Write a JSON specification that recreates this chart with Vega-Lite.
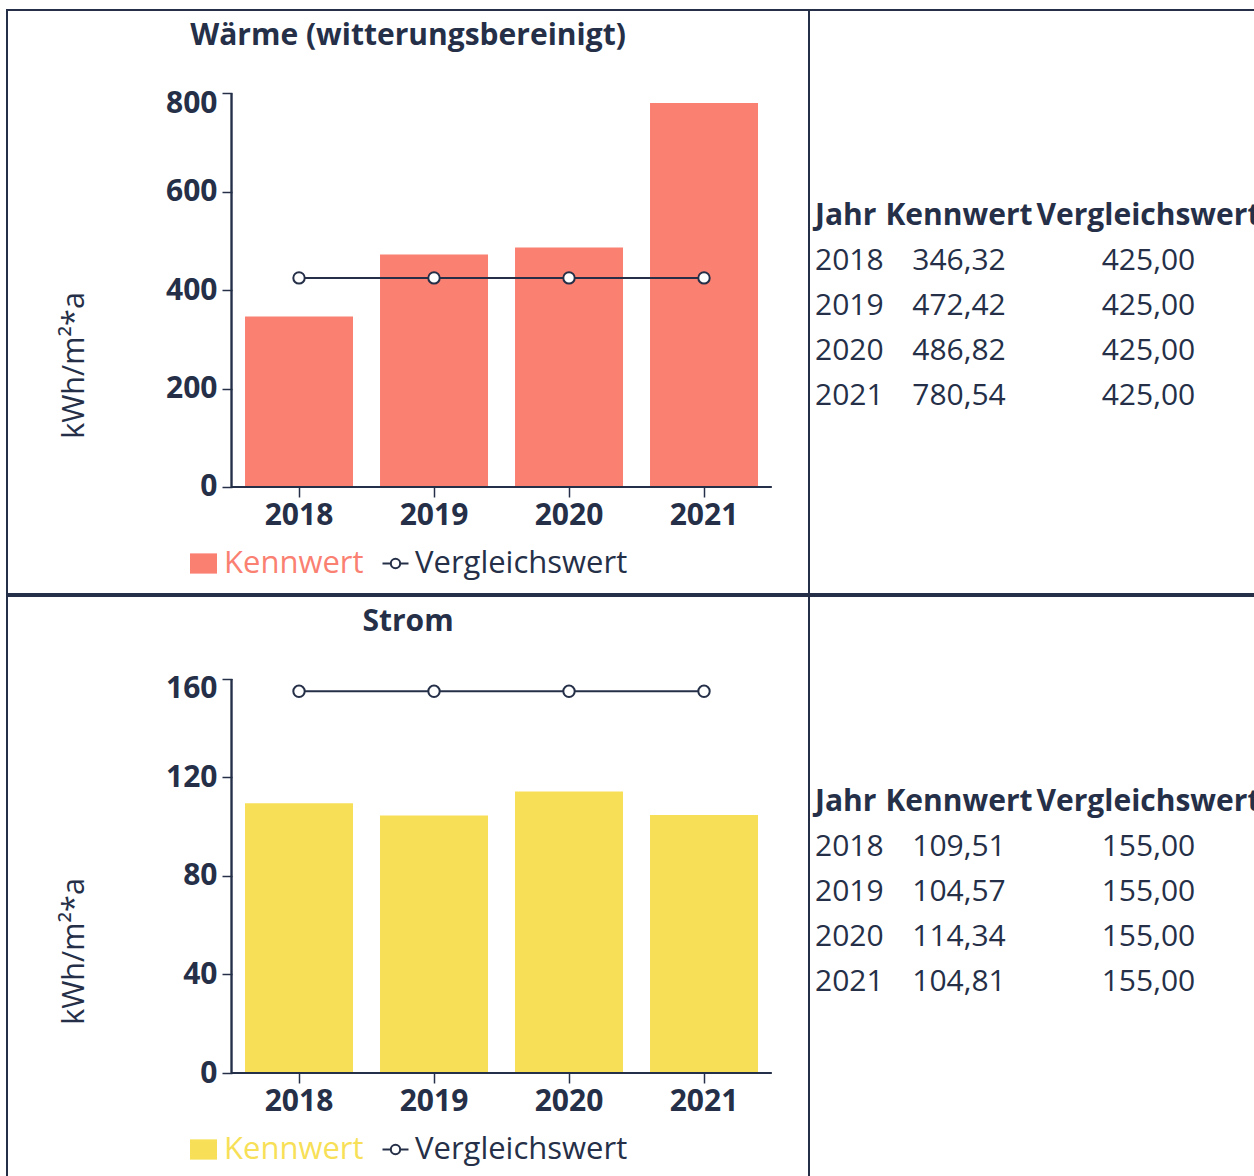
{
  "$schema": "https://vega.github.io/schema/vega-lite/v6.json",
  "background": "white",
  "padding": {"left": 6, "top": 9, "right": 0, "bottom": 0},
  "config": {
    "font": "Open Sans",
    "view": {"stroke": "#253048", "strokeWidth": 2},
    "locale": {"number": {"decimal": ",", "thousands": ".", "grouping": [3], "currency": ["", " €"]}}
  },
  "datasets": {
    "waerme": [
      {"Jahr": "2018", "Kennwert": 346.32, "Vergleichswert": 425.0},
      {"Jahr": "2019", "Kennwert": 472.42, "Vergleichswert": 425.0},
      {"Jahr": "2020", "Kennwert": 486.82, "Vergleichswert": 425.0},
      {"Jahr": "2021", "Kennwert": 780.54, "Vergleichswert": 425.0}
    ],
    "strom": [
      {"Jahr": "2018", "Kennwert": 109.51, "Vergleichswert": 155.0},
      {"Jahr": "2019", "Kennwert": 104.57, "Vergleichswert": 155.0},
      {"Jahr": "2020", "Kennwert": 114.34, "Vergleichswert": 155.0},
      {"Jahr": "2021", "Kennwert": 104.81, "Vergleichswert": 155.0}
    ]
  },
  "columns": 2,
  "spacing": {"row": 2, "column": 0},
  "bounds": "flush",
  "resolve": {"scale": {"fill": "independent", "stroke": "independent"}, "legend": {"fill": "independent", "stroke": "independent"}},
  "concat": [
    {
      "width": 802, "height": 584,
      "title": {"text": "Wärme (witterungsbereinigt)", "anchor": "middle", "frame": "group", "offset": -35, "dy": 30, "baseline": "alphabetic", "fontSize": 30, "fontWeight": "bold", "color": "#253048"},
      "data": {"name": "waerme"},
      "layer": [
        {
          "mark": {"type": "bar", "width": {"band": 0.8}},
          "encoding": {
            "x": {"field": "Jahr", "type": "ordinal", "scale": {"type": "band", "paddingInner": 0, "paddingOuter": 0.9704, "align": 0.8569},
              "axis": {"orient": "bottom", "offset": -107, "domain": false, "grid": false, "ticks": true, "tickSize": 10, "tickWidth": 1.5, "tickColor": "#253048", "labelAngle": 0, "labelFontSize": 30, "labelFontWeight": "bold", "labelColor": "#253048", "labelPadding": 3, "title": null}},
            "y": {"field": "Kennwert", "type": "quantitative", "scale": {"domain": [-217.5, 969.5], "nice": false, "zero": false},
              "axis": {"orient": "left", "offset": -225, "values": [0, 200, 400, 600, 800], "domain": false, "grid": false, "ticks": true, "tickSize": 10, "tickWidth": 1.5, "tickColor": "#253048", "labelFontSize": 30, "labelFontWeight": "bold", "labelColor": "#253048", "labelPadding": 5,
                "labelOffset": {"condition": {"test": "datum.value == 800", "value": 10}, "value": 0},
                "title": "kWh/m²*a", "titleFontSize": 30.5, "titleFontWeight": "normal", "titleColor": "#253048", "titleAngle": -90, "titleX": -149, "titleY": 355, "titleAlign": "center", "titleBaseline": "alphabetic"}},
            "y2": {"datum": 0},
            "fill": {"datum": "Kennwert", "scale": {"domain": ["Kennwert"], "range": ["#FA8072"]},
              "legend": {"orient": "none", "legendX": 181, "legendY": 538, "padding": 0, "title": null, "symbolType": "M-1,-0.75H1V0.75H-1Z", "symbolSize": 729, "symbolStrokeWidth": 0, "labelColor": "#FA8072", "labelFontSize": 31, "labelOffset": 5, "labelLimit": 0}}
          }
        },
        {
          "mark": {"type": "rule", "color": "#253048", "strokeWidth": 1.5},
          "encoding": {
            "x": {"datum": "2018", "type": "ordinal", "bandPosition": 0},
            "y": {"datum": 0, "type": "quantitative", "scale": {"domain": [-217.5, 969.5], "nice": false, "zero": false}},
            "y2": {"datum": 800}
          }
        },
        {
          "mark": {"type": "rule", "color": "#253048", "strokeWidth": 1.5},
          "encoding": {
            "x": {"datum": "2018", "type": "ordinal", "bandPosition": 0},
            "x2": {"datum": "2021", "bandPosition": 1},
            "y": {"datum": 0, "type": "quantitative", "scale": {"domain": [-217.5, 969.5], "nice": false, "zero": false}}
          }
        },
        {
          "mark": {"type": "line", "strokeWidth": 2},
          "encoding": {
            "x": {"field": "Jahr", "type": "ordinal"},
            "y": {"field": "Vergleichswert", "type": "quantitative", "scale": {"domain": [-217.5, 969.5], "nice": false, "zero": false}},
            "stroke": {"datum": "Vergleichswert", "scale": {"domain": ["Vergleichswert"], "range": ["#253048"]},
              "legend": {"orient": "none", "legendX": 373, "legendY": 538, "padding": 0, "title": null, "symbolType": "M-1,0H-0.36M0.36,0H1M-0.36,0A0.36,0.36,0,1,1,0.36,0A0.36,0.36,0,1,1,-0.36,0", "symbolSize": 676, "symbolStrokeWidth": 2, "symbolFillColor": "white", "symbolStrokeColor": "#253048", "labelColor": "#253048", "labelFontSize": 31, "labelOffset": 4, "labelLimit": 0}}
          }
        },
        {
          "mark": {"type": "point", "filled": true, "fill": "white", "size": 130, "strokeWidth": 2, "opacity": 1},
          "encoding": {
            "x": {"field": "Jahr", "type": "ordinal"},
            "y": {"field": "Vergleichswert", "type": "quantitative", "scale": {"domain": [-217.5, 969.5], "nice": false, "zero": false}},
            "stroke": {"datum": "Vergleichswert"}
          }
        }
      ]
    },
    {
      "width": 450, "height": 584,
      "data": {"name": "waerme"},
      "layer": [
        {
          "transform": [{"filter": "datum.Jahr == '2018'"}],
          "mark": {"type": "text", "align": "left", "baseline": "middle", "fontSize": 30, "fontWeight": "bold", "color": "#253048"},
          "encoding": {
            "x": {"datum": "Jahr", "type": "nominal", "bandPosition": 0.04, "scale": {"type": "band", "domain": ["Jahr", "Kennwert", "Vergleichswert"], "paddingInner": 0, "paddingOuter": 0}, "axis": null},
            "y": {"datum": "Jahr", "type": "ordinal", "scale": {"type": "point", "domain": ["Jahr", "2018", "2019", "2020", "2021"], "range": [206, 386], "padding": 0}, "axis": null},
            "text": {"value": "Jahr"}
          }
        },
        {
          "transform": [{"filter": "datum.Jahr == '2018'"}],
          "mark": {"type": "text", "align": "center", "baseline": "middle", "fontSize": 30, "fontWeight": "bold", "color": "#253048"},
          "encoding": {
            "x": {"datum": "Kennwert", "type": "nominal", "bandPosition": 0},
            "y": {"datum": "Jahr", "type": "ordinal", "scale": {"type": "point", "domain": ["Jahr", "2018", "2019", "2020", "2021"], "range": [206, 386], "padding": 0}},
            "text": {"value": "Kennwert"}
          }
        },
        {
          "transform": [{"filter": "datum.Jahr == '2018'"}],
          "mark": {"type": "text", "align": "center", "baseline": "middle", "fontSize": 30, "fontWeight": "bold", "color": "#253048"},
          "encoding": {
            "x": {"datum": "Vergleichswert", "type": "nominal", "bandPosition": 0.263},
            "y": {"datum": "Jahr", "type": "ordinal", "scale": {"type": "point", "domain": ["Jahr", "2018", "2019", "2020", "2021"], "range": [206, 386], "padding": 0}},
            "text": {"value": "Vergleichswert"}
          }
        },
        {
          "mark": {"type": "text", "align": "left", "baseline": "middle", "fontSize": 30, "color": "#253048"},
          "encoding": {
            "x": {"datum": "Jahr", "type": "nominal", "bandPosition": 0.04},
            "y": {"field": "Jahr", "type": "ordinal", "scale": {"type": "point", "domain": ["Jahr", "2018", "2019", "2020", "2021"], "range": [206, 386], "padding": 0}},
            "text": {"field": "Jahr"}
          }
        },
        {
          "mark": {"type": "text", "align": "center", "baseline": "middle", "fontSize": 30, "color": "#253048"},
          "encoding": {
            "x": {"datum": "Kennwert", "type": "nominal", "bandPosition": 0},
            "y": {"field": "Jahr", "type": "ordinal", "scale": {"type": "point", "domain": ["Jahr", "2018", "2019", "2020", "2021"], "range": [206, 386], "padding": 0}},
            "text": {"field": "Kennwert", "type": "quantitative", "format": ".2f"}
          }
        },
        {
          "mark": {"type": "text", "align": "center", "baseline": "middle", "fontSize": 30, "color": "#253048"},
          "encoding": {
            "x": {"datum": "Vergleichswert", "type": "nominal", "bandPosition": 0.263},
            "y": {"field": "Jahr", "type": "ordinal", "scale": {"type": "point", "domain": ["Jahr", "2018", "2019", "2020", "2021"], "range": [206, 386], "padding": 0}},
            "text": {"field": "Vergleichswert", "type": "quantitative", "format": ".2f"}
          }
        }
      ]
    },
    {
      "width": 802, "height": 584,
      "title": {"text": "Strom", "anchor": "middle", "frame": "group", "offset": -35, "dy": 30, "baseline": "alphabetic", "fontSize": 30, "fontWeight": "bold", "color": "#253048"},
      "data": {"name": "strom"},
      "layer": [
        {
          "mark": {"type": "bar", "width": {"band": 0.8}},
          "encoding": {
            "x": {"field": "Jahr", "type": "ordinal", "scale": {"type": "band", "paddingInner": 0, "paddingOuter": 0.9704, "align": 0.8569},
              "axis": {"orient": "bottom", "offset": -107, "domain": false, "grid": false, "ticks": true, "tickSize": 10, "tickWidth": 1.5, "tickColor": "#253048", "labelAngle": 0, "labelFontSize": 30, "labelFontWeight": "bold", "labelColor": "#253048", "labelPadding": 3, "title": null}},
            "y": {"field": "Kennwert", "type": "quantitative", "scale": {"domain": [-43.45, 193.7], "nice": false, "zero": false},
              "axis": {"orient": "left", "offset": -225, "values": [0, 40, 80, 120, 160], "domain": false, "grid": false, "ticks": true, "tickSize": 10, "tickWidth": 1.5, "tickColor": "#253048", "labelFontSize": 30, "labelFontWeight": "bold", "labelColor": "#253048", "labelPadding": 5,
                "labelOffset": {"condition": {"test": "datum.value == 160", "value": 10}, "value": 0},
                "title": "kWh/m²*a", "titleFontSize": 30.5, "titleFontWeight": "normal", "titleColor": "#253048", "titleAngle": -90, "titleX": -149, "titleY": 355, "titleAlign": "center", "titleBaseline": "alphabetic"}},
            "y2": {"datum": 0},
            "fill": {"datum": "Kennwert", "scale": {"domain": ["Kennwert"], "range": ["#F7DF58"]},
              "legend": {"orient": "none", "legendX": 181, "legendY": 538, "padding": 0, "title": null, "symbolType": "M-1,-0.75H1V0.75H-1Z", "symbolSize": 729, "symbolStrokeWidth": 0, "labelColor": "#F7DF58", "labelFontSize": 31, "labelOffset": 5, "labelLimit": 0}}
          }
        },
        {
          "mark": {"type": "rule", "color": "#253048", "strokeWidth": 1.5},
          "encoding": {
            "x": {"datum": "2018", "type": "ordinal", "bandPosition": 0},
            "y": {"datum": 0, "type": "quantitative", "scale": {"domain": [-43.45, 193.7], "nice": false, "zero": false}},
            "y2": {"datum": 160}
          }
        },
        {
          "mark": {"type": "rule", "color": "#253048", "strokeWidth": 1.5},
          "encoding": {
            "x": {"datum": "2018", "type": "ordinal", "bandPosition": 0},
            "x2": {"datum": "2021", "bandPosition": 1},
            "y": {"datum": 0, "type": "quantitative", "scale": {"domain": [-43.45, 193.7], "nice": false, "zero": false}}
          }
        },
        {
          "mark": {"type": "line", "strokeWidth": 2},
          "encoding": {
            "x": {"field": "Jahr", "type": "ordinal"},
            "y": {"field": "Vergleichswert", "type": "quantitative", "scale": {"domain": [-43.45, 193.7], "nice": false, "zero": false}},
            "stroke": {"datum": "Vergleichswert", "scale": {"domain": ["Vergleichswert"], "range": ["#253048"]},
              "legend": {"orient": "none", "legendX": 373, "legendY": 538, "padding": 0, "title": null, "symbolType": "M-1,0H-0.36M0.36,0H1M-0.36,0A0.36,0.36,0,1,1,0.36,0A0.36,0.36,0,1,1,-0.36,0", "symbolSize": 676, "symbolStrokeWidth": 2, "symbolFillColor": "white", "symbolStrokeColor": "#253048", "labelColor": "#253048", "labelFontSize": 31, "labelOffset": 4, "labelLimit": 0}}
          }
        },
        {
          "mark": {"type": "point", "filled": true, "fill": "white", "size": 130, "strokeWidth": 2, "opacity": 1},
          "encoding": {
            "x": {"field": "Jahr", "type": "ordinal"},
            "y": {"field": "Vergleichswert", "type": "quantitative", "scale": {"domain": [-43.45, 193.7], "nice": false, "zero": false}},
            "stroke": {"datum": "Vergleichswert"}
          }
        }
      ]
    },
    {
      "width": 450, "height": 584,
      "data": {"name": "strom"},
      "layer": [
        {
          "transform": [{"filter": "datum.Jahr == '2018'"}],
          "mark": {"type": "text", "align": "left", "baseline": "middle", "fontSize": 30, "fontWeight": "bold", "color": "#253048"},
          "encoding": {
            "x": {"datum": "Jahr", "type": "nominal", "bandPosition": 0.04, "scale": {"type": "band", "domain": ["Jahr", "Kennwert", "Vergleichswert"], "paddingInner": 0, "paddingOuter": 0}, "axis": null},
            "y": {"datum": "Jahr", "type": "ordinal", "scale": {"type": "point", "domain": ["Jahr", "2018", "2019", "2020", "2021"], "range": [206, 386], "padding": 0}, "axis": null},
            "text": {"value": "Jahr"}
          }
        },
        {
          "transform": [{"filter": "datum.Jahr == '2018'"}],
          "mark": {"type": "text", "align": "center", "baseline": "middle", "fontSize": 30, "fontWeight": "bold", "color": "#253048"},
          "encoding": {
            "x": {"datum": "Kennwert", "type": "nominal", "bandPosition": 0},
            "y": {"datum": "Jahr", "type": "ordinal", "scale": {"type": "point", "domain": ["Jahr", "2018", "2019", "2020", "2021"], "range": [206, 386], "padding": 0}},
            "text": {"value": "Kennwert"}
          }
        },
        {
          "transform": [{"filter": "datum.Jahr == '2018'"}],
          "mark": {"type": "text", "align": "center", "baseline": "middle", "fontSize": 30, "fontWeight": "bold", "color": "#253048"},
          "encoding": {
            "x": {"datum": "Vergleichswert", "type": "nominal", "bandPosition": 0.263},
            "y": {"datum": "Jahr", "type": "ordinal", "scale": {"type": "point", "domain": ["Jahr", "2018", "2019", "2020", "2021"], "range": [206, 386], "padding": 0}},
            "text": {"value": "Vergleichswert"}
          }
        },
        {
          "mark": {"type": "text", "align": "left", "baseline": "middle", "fontSize": 30, "color": "#253048"},
          "encoding": {
            "x": {"datum": "Jahr", "type": "nominal", "bandPosition": 0.04},
            "y": {"field": "Jahr", "type": "ordinal", "scale": {"type": "point", "domain": ["Jahr", "2018", "2019", "2020", "2021"], "range": [206, 386], "padding": 0}},
            "text": {"field": "Jahr"}
          }
        },
        {
          "mark": {"type": "text", "align": "center", "baseline": "middle", "fontSize": 30, "color": "#253048"},
          "encoding": {
            "x": {"datum": "Kennwert", "type": "nominal", "bandPosition": 0},
            "y": {"field": "Jahr", "type": "ordinal", "scale": {"type": "point", "domain": ["Jahr", "2018", "2019", "2020", "2021"], "range": [206, 386], "padding": 0}},
            "text": {"field": "Kennwert", "type": "quantitative", "format": ".2f"}
          }
        },
        {
          "mark": {"type": "text", "align": "center", "baseline": "middle", "fontSize": 30, "color": "#253048"},
          "encoding": {
            "x": {"datum": "Vergleichswert", "type": "nominal", "bandPosition": 0.263},
            "y": {"field": "Jahr", "type": "ordinal", "scale": {"type": "point", "domain": ["Jahr", "2018", "2019", "2020", "2021"], "range": [206, 386], "padding": 0}},
            "text": {"field": "Vergleichswert", "type": "quantitative", "format": ".2f"}
          }
        }
      ]
    }
  ]
}
